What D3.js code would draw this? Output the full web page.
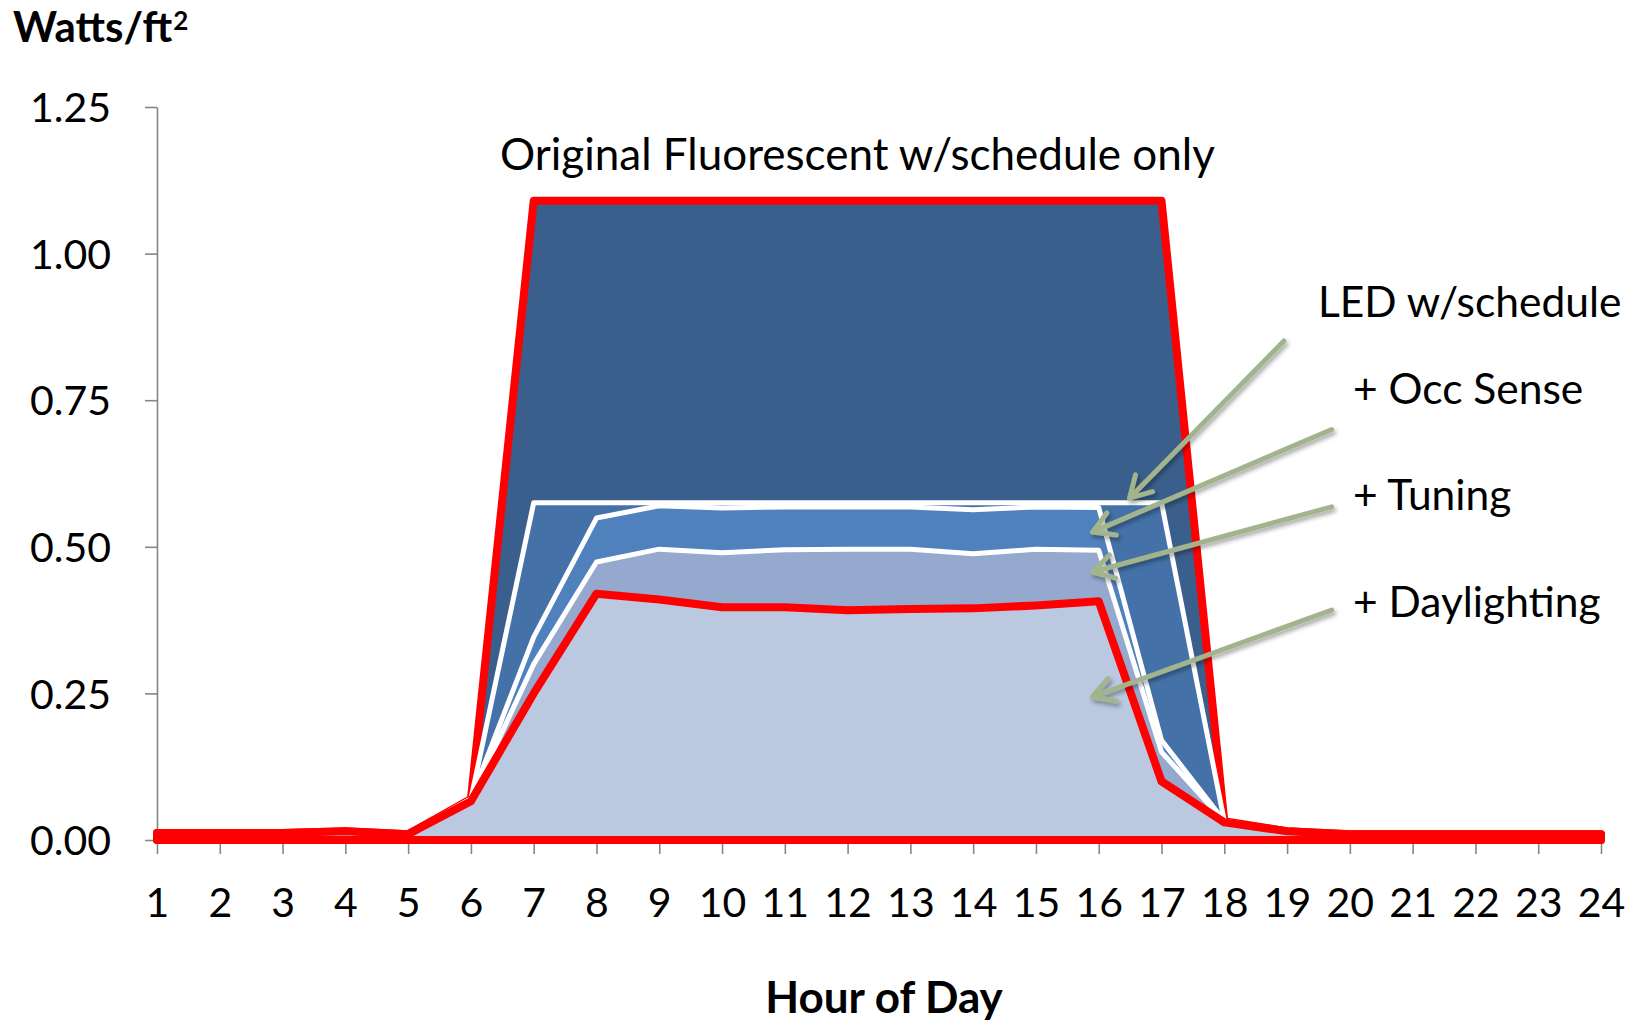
<!DOCTYPE html>
<html>
<head>
<meta charset="utf-8">
<script src="https://cdn.jsdelivr.net/npm/d3@7"></script>
<style>
  body { margin: 0; background: #fff; }
  svg { display: block; }
  text { font-family: Lato, "Open Sans", sans-serif; fill: #000; }
</style>
</head>
<body>
<svg id="chart" width="1643" height="1025"></svg>
<script>
// Hour of day categories
const hours = [1, 2, 3, 4, 5, 6, 7, 8, 9, 10, 11, 12, 13, 14, 15, 16, 17, 18, 19, 20, 21, 22, 23, 24];

// Lighting power density (W/ft²) by hour for each scenario
const fluorescent = [0.012, 0.012, 0.012, 0.015, 0.010, 0.070, 1.090, 1.090, 1.090, 1.090, 1.090, 1.090,
                     1.090, 1.090, 1.090, 1.090, 1.090, 0.032, 0.015, 0.010, 0.010, 0.010, 0.010, 0.010];
const ledSchedule = [0.012, 0.012, 0.012, 0.015, 0.010, 0.070, 0.575, 0.575, 0.575, 0.575, 0.575, 0.575,
                     0.575, 0.575, 0.575, 0.575, 0.575, 0.032, 0.015, 0.010, 0.010, 0.010, 0.010, 0.010];
const occSense    = [0.012, 0.012, 0.012, 0.015, 0.010, 0.070, 0.346, 0.549, 0.570, 0.566, 0.568, 0.568,
                     0.568, 0.563, 0.568, 0.567, 0.170, 0.032, 0.015, 0.010, 0.010, 0.010, 0.010, 0.010];
const tuning      = [0.012, 0.012, 0.012, 0.015, 0.010, 0.070, 0.300, 0.474, 0.496, 0.490, 0.495, 0.496,
                     0.496, 0.488, 0.496, 0.494, 0.150, 0.032, 0.015, 0.010, 0.010, 0.010, 0.010, 0.010];
const daylighting = [0.012, 0.012, 0.012, 0.015, 0.010, 0.066, 0.250, 0.420, 0.410, 0.397, 0.397, 0.392,
                     0.394, 0.395, 0.400, 0.407, 0.100, 0.030, 0.015, 0.010, 0.010, 0.010, 0.010, 0.010];

// Axis ticks
const yTicks = [0, 0.25, 0.5, 0.75, 1.0, 1.25];
const xTickLabels = hours.map(String);

// Text
const yTitle = "Watts/ft";
const yTitleExponent = "2";
const xTitle = "Hour of Day";
const seriesLabels = ["Original Fluorescent w/schedule only", "LED w/schedule", "+ Occ Sense", "+ Tuning", "+ Daylighting"];

const svg = d3.select("#chart");

const x = d3.scalePoint().domain(hours).range([157, 1601]);
const y = d3.scaleLinear().domain([0, 1.25]).range([840, 107]);

const axisColor = "#868686";

// Axes (drawn first so the area outlines sit on top)
const yAxis = svg.append("g")
  .attr("transform", `translate(${x(1)},0)`)
  .call(d3.axisLeft(y).tickValues(yTicks).tickFormat(d3.format(".2f"))
        .tickSize(12).tickSizeOuter(0).tickPadding(34));
const xAxis = svg.append("g")
  .attr("transform", `translate(0,${y(0)})`)
  .call(d3.axisBottom(x).tickFormat((d, i) => xTickLabels[i])
        .tickSize(14).tickSizeOuter(0).tickPadding(34));

[yAxis, xAxis].forEach(g => {
  g.select(".domain").attr("stroke", axisColor).attr("stroke-width", 1.6);
  g.selectAll(".tick line").attr("stroke", axisColor).attr("stroke-width", 1.6);
  g.selectAll(".tick text").attr("fill", "#000").style("font-size", "41px").style("font-family", "Lato, sans-serif");
});
yAxis.selectAll(".tick text").attr("dy", "0.36em");

// Overlapping area series, largest first
const series = [
  { values: fluorescent, fill: "#3b5f8c", stroke: "#ff0000", width: 8 },
  { values: ledSchedule, fill: "#4472a8", stroke: "#ffffff", width: 5 },
  { values: occSense,    fill: "#4f81bd", stroke: "#ffffff", width: 5 },
  { values: tuning,      fill: "#95a9cf", stroke: "#ffffff", width: 5 },
  { values: daylighting, fill: "#bac8e0", stroke: "#ff0000", width: 8 }
];

const area = d3.area()
  .x((d, i) => x(hours[i]))
  .y0(y(0))
  .y1(d => y(d));

svg.append("g").selectAll("path")
  .data(series)
  .join("path")
  .attr("d", d => area(d.values))
  .attr("fill", d => d.fill)
  .attr("stroke", d => d.stroke)
  .attr("stroke-width", d => d.width)
  .attr("stroke-linejoin", "round");

// Axis titles
const yt = svg.append("text")
  .attr("x", 13).attr("y", 42)
  .style("font-size", "42px").style("font-weight", "bold");
yt.append("tspan").text(yTitle);
yt.append("tspan")
  .attr("dy", -12)
  .attr("dx", 1)
  .style("font-size", "26px")
  .text(yTitleExponent);

svg.append("text")
  .attr("x", 884).attr("y", 1013)
  .attr("text-anchor", "middle")
  .style("font-size", "44px").style("font-weight", "bold")
  .text(xTitle);

// Series annotations
const labelPos = [[500, 170], [1318, 317], [1353, 404], [1353, 510], [1353, 617]];
const labelSize = [44, 42.5, 42.5, 42.5, 42.5];
svg.append("g").selectAll("text")
  .data(seriesLabels)
  .join("text")
  .attr("x", (d, i) => labelPos[i][0])
  .attr("y", (d, i) => labelPos[i][1])
  .style("font-size", (d, i) => labelSize[i] + "px")
  .text(d => d);

// Callout arrows, in data coordinates [hour, value]: tail -> tip
const arrows = [
  { from: [18.95, 0.851], to: [16.49, 0.583] },
  { from: [19.71, 0.700], to: [15.90, 0.525] },
  { from: [19.71, 0.568], to: [15.90, 0.457] },
  { from: [19.71, 0.392], to: [15.90, 0.244] }
];
const xc = h => x(1) + (h - 1) * x.step();

const defs = svg.append("defs");
const shadow = defs.append("filter").attr("id", "arrowShadow")
  .attr("x", "-20%").attr("y", "-20%").attr("width", "140%").attr("height", "140%");
shadow.append("feDropShadow")
  .attr("dx", 2).attr("dy", 3).attr("stdDeviation", 2)
  .attr("flood-color", "#000").attr("flood-opacity", 0.35);

const headLen = 24, headAng = Math.PI / 6;
svg.append("g")
  .attr("filter", "url(#arrowShadow)")
  .selectAll("path")
  .data(arrows)
  .join("path")
  .attr("d", d => {
    const x0 = xc(d.from[0]), y0 = y(d.from[1]);
    const x1 = xc(d.to[0]), y1 = y(d.to[1]);
    const a = Math.atan2(y0 - y1, x0 - x1);
    const p = d3.path();
    p.moveTo(x0, y0); p.lineTo(x1, y1);
    p.moveTo(x1 + headLen * Math.cos(a - headAng), y1 + headLen * Math.sin(a - headAng));
    p.lineTo(x1, y1);
    p.lineTo(x1 + headLen * Math.cos(a + headAng), y1 + headLen * Math.sin(a + headAng));
    return p.toString();
  })
  .attr("fill", "none")
  .attr("stroke", "#a2b48e")
  .attr("stroke-width", 5)
  .attr("stroke-linecap", "round")
  .attr("stroke-linejoin", "round");
</script>
</body>
</html>
